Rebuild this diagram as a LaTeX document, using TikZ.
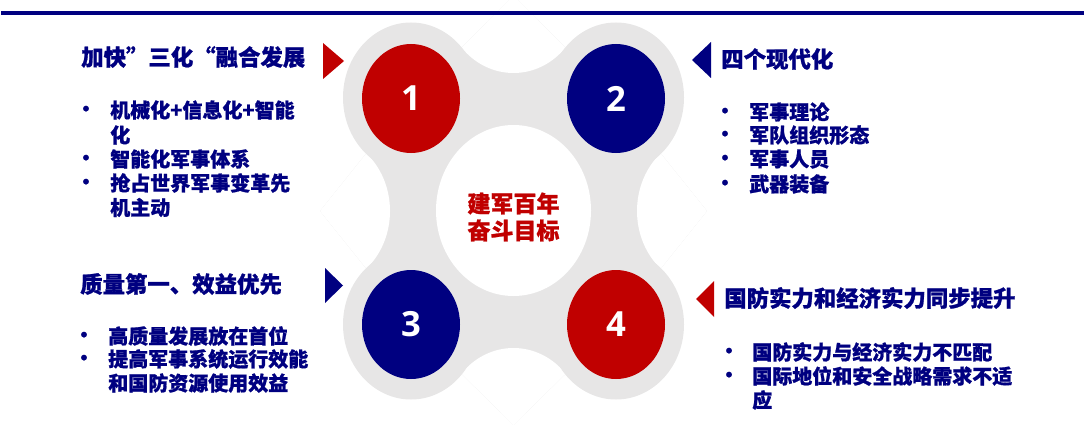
\documentclass[tikz,border=0pt]{standalone}
\usepackage{fontspec}
\usetikzlibrary{shapes.geometric}
\newfontfamily\cjk{Noto Sans CJK SC}[BoldFeatures={FakeBold=1}]
\newfontfamily\digitfont{Open Sans}
\definecolor{navy}{HTML}{000080}
\definecolor{darkred}{HTML}{C00000}
\definecolor{lgray}{HTML}{E7E6E6}
\tikzset{
  head/.style={anchor=west, inner sep=0pt, text=navy, font=\cjk\bfseries\fontsize{16.8}{20}\selectfont},
  body/.style={anchor=west, inner sep=0pt, text=navy, font=\cjk\bfseries\fontsize{15}{18}\selectfont},
  bul/.style={anchor=center, inner sep=0pt, text=navy, font=\cjk\bfseries\fontsize{15}{18}\selectfont},
  numdisc/.style={ellipse, inner sep=0pt, minimum width=73.5pt, minimum height=81.75pt, text=white, font=\digitfont\bfseries\fontsize{26}{30}\selectfont},
  tri/.style={draw=none}
}
\begin{document}
\begin{tikzpicture}[x=0.75pt,y=-0.75pt]
\useasboundingbox (0,0) rectangle (1084,428);
% gray connecting body
\begin{scope}
  \clip (411,97.5) -- (513.5,-4) -- (616,97.5) -- (707,211) -- (616,324.5) -- (513.5,425) -- (411,324.5) -- (320,211) -- cycle;
  \fill[lgray] (300,-20) rectangle (730,440);
  \fill[white] (513.5,-4) ellipse [x radius=70, y radius=77];
  \fill[white] (513.5,425) ellipse [x radius=70, y radius=77];
  \fill[white] (320,211) ellipse [x radius=70, y radius=77];
  \fill[white] (707,211) ellipse [x radius=70, y radius=77];
\end{scope}
\fill[lgray] (411,97.5) ellipse [x radius=68, y radius=75];
\fill[lgray] (616,97.5) ellipse [x radius=68, y radius=75];
\fill[lgray] (411,324.5) ellipse [x radius=68, y radius=75];
\fill[lgray] (616,324.5) ellipse [x radius=68, y radius=75];
% top rule
\fill[navy] (1,11) rectangle (1084,15);
% numbered discs
\node[numdisc, fill=darkred] (n1) at (411,98.5) {1};
\node[numdisc, fill=navy] (n2) at (616,98.5) {2};
\node[numdisc, fill=navy] (n3) at (411,324.5) {3};
\node[numdisc, fill=darkred] (n4) at (616,324.5) {4};
% centre
\node[ellipse, fill=white, inner sep=0pt, minimum width=116.25pt, minimum height=128.25pt] (core) at (513.5,210.5) {};
\node[align=center, inner sep=0pt, text=darkred, font=\cjk\bfseries\fontsize{17.25}{20.25}\selectfont] (coretext) at (513.5,217) {建军百年\\奋斗目标};
% triangles
\fill[darkred] (323,43) -- (344,61) -- (323,79) -- cycle;
\fill[navy] (711,42) -- (692,60) -- (711,78) -- cycle;
\fill[navy] (325,268) -- (343,285.5) -- (325,303) -- cycle;
\fill[darkred] (714,281) -- (696,299) -- (714,317) -- cycle;
% block 1
\node[head] (h1) at (81,57) {加快”三化“融合发展};
\node[bul] (b1a) at (86,111) {•};
\node[body] (t1a) at (110,110) {机械化+信息化+智能};
\node[body] (t1b) at (110,135) {化};
\node[bul] (b1b) at (86,160) {•};
\node[body] (t1c) at (110,159) {智能化军事体系};
\node[bul] (b1c) at (86,184) {•};
\node[body] (t1d) at (110,183) {抢占世界军事变革先};
\node[body] (t1e) at (110,207.5) {机主动};
% block 2
\node[head] (h2) at (721,59) {四个现代化};
\node[bul] (b2a) at (725,113) {•};
\node[body] (t2a) at (749,112) {军事理论};
\node[bul] (b2b) at (725,136) {•};
\node[body] (t2b) at (749,135) {军队组织形态};
\node[bul] (b2c) at (725,160) {•};
\node[body] (t2c) at (749,159) {军事人员};
\node[bul] (b2d) at (725,185) {•};
\node[body] (t2d) at (749,184) {武器装备};
% block 3
\node[head] (h3) at (80,284) {质量第一、效益优先};
\node[bul] (b3a) at (84,337) {•};
\node[body] (t3a) at (108,336) {高质量发展放在首位};
\node[bul] (b3b) at (84,360) {•};
\node[body] (t3b) at (108,359) {提高军事系统运行效能};
\node[body] (t3c) at (108,383) {和国防资源使用效益};
% block 4
\node[head] (h4) at (724,298) {国防实力和经济实力同步提升};
\node[bul] (b4a) at (729,353) {•};
\node[body] (t4a) at (752,352) {国防实力与经济实力不匹配};
\node[bul] (b4b) at (729,377) {•};
\node[body] (t4b) at (752,376) {国际地位和安全战略需求不适};
\node[body] (t4c) at (752,400) {应};
\end{tikzpicture}
\end{document}
